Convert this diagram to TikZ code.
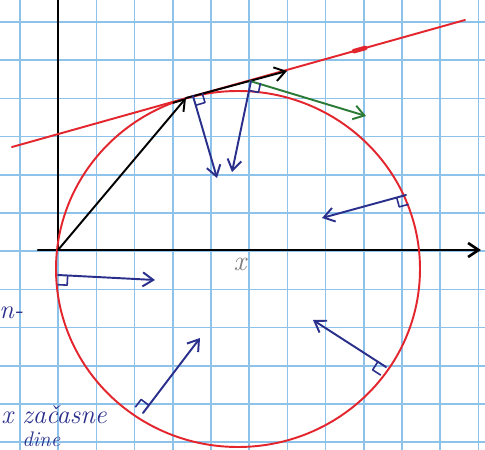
\documentclass[tikz,border=0pt]{standalone}
\usetikzlibrary{arrows.meta,calc}
\definecolor{gridblue}{HTML}{8DC3EA}
\definecolor{penred}{HTML}{E3262E}
\definecolor{penblue}{HTML}{2A2F8C}
\definecolor{pengreen}{HTML}{2B7A36}
\definecolor{pencilgray}{HTML}{7C7C7C}
\tikzset{
  barb/.style={-{Straight Barb[length=6pt,width=8pt]}},
  inkline/.style={line width=1.1pt, line cap=round, line join=round},
  handtext/.style={font=\fontsize{15}{18}\selectfont\itshape, text=penblue, inner sep=0pt}
}
\begin{document}
\begin{tikzpicture}[x=0.02cm, y=-0.02cm]
\useasboundingbox (0,0) rectangle (485,450);
\def\gridstep{38.2}
\def\marksize{5.5pt}
% Squared Paper
\fill[white] (0,0) rectangle (485,450);
\foreach \i in {0,...,12}
  \draw[gridblue, line width=0.9pt] ({20+\i*\gridstep},0) -- ++(0,450);
\foreach \i in {0,...,11}
  \draw[gridblue, line width=0.9pt] (0,{22+\i*\gridstep}) -- ++(485,0);
% Key Points
\coordinate (o) at (58,250);
\coordinate (c) at (238,269);
\coordinate (tp) at (186,98);
\coordinate (fp) at (250,81);
\coordinate (tt) at (287,71);
% Axes
\draw[inkline, line width=1.5pt, barb] (38,250) -- (481,250);
\draw[inkline, line width=1.5pt] (o) -- (58,0);
% Circle and Tangent Line
\draw[penred, inkline] (c) ellipse [x radius=182, y radius=178];
\coordinate (tl) at (12,147);
\coordinate (tr) at (465,20);
\draw[penred, inkline] (tl) -- (tr);
\draw[penred, line width=2.6pt, line cap=round] ($(tl)!0.755!(tr)$) -- ($(tl)!0.78!(tr)$);
% Black Arrows
\draw[inkline, barb] (o) -- (tp);
\draw[inkline, barb] (tp) -- (tt);
% Green Arrow
\draw[pengreen, inkline, barb] (fp) -- (366,116);
% Blue Arrows with Right Angle Marks
\foreach [count=\i] \sx/\sy/\ex/\ey/\turn in {193/96/217/178/90, 251/81/232/172/90, 406/195/322/218/90, 58/275/155/280/-90, 386/367/313/320/90, 143/413/200/338/90}{
  \coordinate (s\i) at (\sx,\sy);
  \coordinate (e\i) at (\ex,\ey);
  \draw[penblue, inkline, barb] (s\i) -- (e\i);
  \coordinate (q\i) at ($(s\i)!\marksize!(e\i)$);
  \coordinate (t\i) at ($(s\i)!\marksize!\turn:(e\i)$);
  \draw[penblue, line width=0.9pt, line join=round] (q\i) -- ($(q\i)+(t\i)-(s\i)$) -- (t\i);
}
% Labels
\node[font=\fontsize{16}{18}\selectfont\itshape, text=pencilgray, inner sep=0pt] (xlab) at (240,264) {x};
\node[handtext, anchor=west] (cut) at (-1,313) {n-};
\node[handtext, anchor=west] (note) at (1,415) {x začasne};
\node[handtext, font=\fontsize{12}{14}\selectfont\itshape, anchor=north west] (note2) at (22,432) {dine};
\end{tikzpicture}
\end{document}
